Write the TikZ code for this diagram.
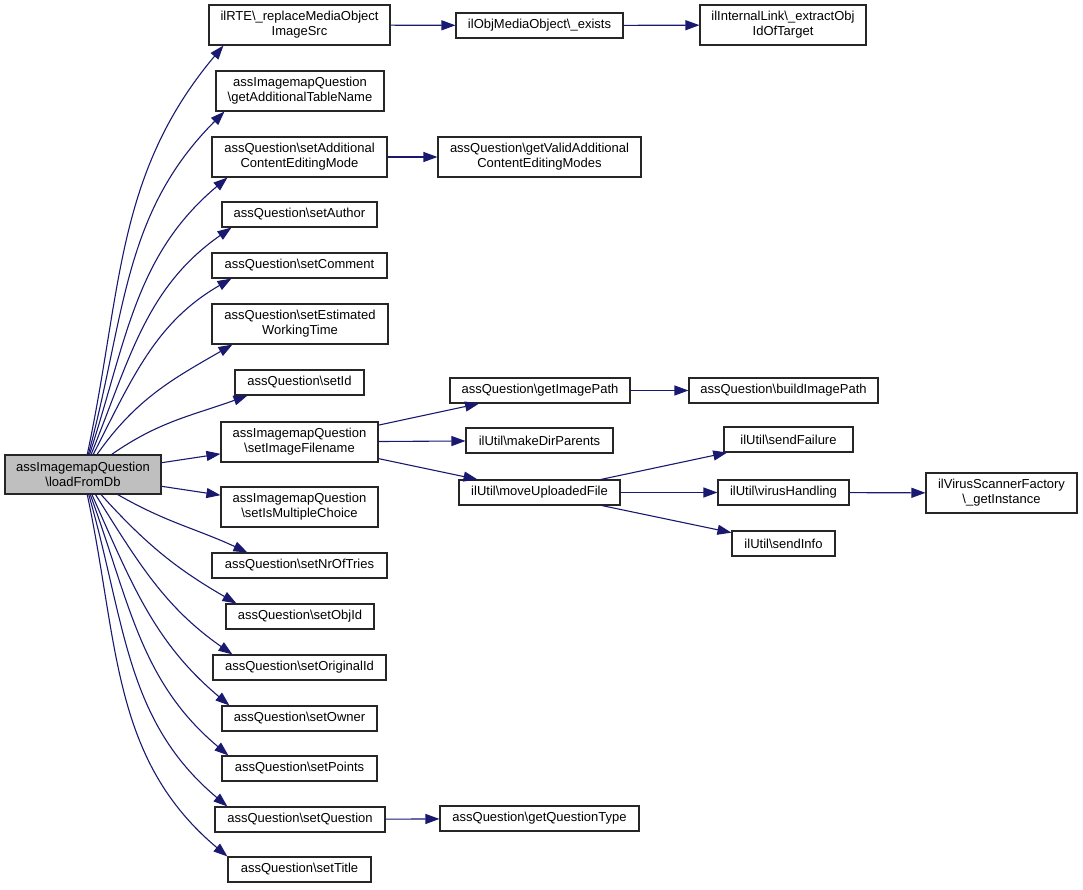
\documentclass[tikz,border=0pt]{standalone}
\usepackage{fontspec}
\setmainfont{Liberation Sans}
\usetikzlibrary{arrows.meta}
\definecolor{edgeblue}{HTML}{191970}
\definecolor{curfill}{HTML}{BFBFBF}
\newcommand{\bksl}{\textbackslash}
\begin{document}
\begin{tikzpicture}[x=1pt, y=1pt,
  every node/.style={font=\fontsize{13}{15}\selectfont},
  fn/.style={draw=black!85, line width=1.1pt, fill=white, align=center, inner sep=0pt},
  call/.style={draw=edgeblue, line width=1.1pt, -{Triangle[length=14pt,width=10pt]}}]
\useasboundingbox (0,0) rectangle (1083,-889);

% caller
\node[fn, fill=curfill, minimum width=156pt, minimum height=39pt] (main) at (83,-474.5)
{assImagemapQuestion\\\bksl loadFromDb};

% direct callees
\node[fn, minimum width=181pt, minimum height=40pt] (rte) at (299.5,-25)
{ilRTE\bksl\_replaceMediaObject\\ImageSrc};
\node[fn, minimum width=168pt, minimum height=40pt] (getadd) at (300,-91)
{assImagemapQuestion\\\bksl getAdditionalTableName};
\node[fn, minimum width=175pt, minimum height=40pt] (setacem) at (299.5,-157)
{assQuestion\bksl setAdditional\\ContentEditingMode};
\node[fn, minimum width=155pt, minimum height=25pt] (setauthor) at (299.5,-214.5)
{assQuestion\bksl setAuthor};
\node[fn, minimum width=175pt, minimum height=25pt] (setcomment) at (299.5,-265.5)
{assQuestion\bksl setComment};
\node[fn, minimum width=176pt, minimum height=40pt] (setest) at (300,-324)
{assQuestion\bksl setEstimated\\WorkingTime};
\node[fn, minimum width=129pt, minimum height=25pt] (setid) at (299.5,-382.5)
{assQuestion\bksl setId};
\node[fn, minimum width=157pt, minimum height=40pt] (setimg) at (299.5,-442)
{assImagemapQuestion\\\bksl setImageFilename};
\node[fn, minimum width=157pt, minimum height=40pt] (setmulti) at (299.5,-507)
{assImagemapQuestion\\\bksl setIsMultipleChoice};
\node[fn, minimum width=175pt, minimum height=25pt] (settries) at (299.5,-565.5)
{assQuestion\bksl setNrOfTries};
\node[fn, minimum width=148pt, minimum height=25pt] (setobjid) at (300,-616.5)
{assQuestion\bksl setObjId};
\node[fn, minimum width=173pt, minimum height=25pt] (setorigid) at (299.5,-667.5)
{assQuestion\bksl setOriginalId};
\node[fn, minimum width=155pt, minimum height=25pt] (setowner) at (299.5,-718.5)
{assQuestion\bksl setOwner};
\node[fn, minimum width=155pt, minimum height=25pt] (setpoints) at (299.5,-768.5)
{assQuestion\bksl setPoints};
\node[fn, minimum width=170pt, minimum height=25pt] (setquest) at (300,-819.5)
{assQuestion\bksl setQuestion};
\node[fn, minimum width=143pt, minimum height=25pt] (settitle) at (299.5,-869.5)
{assQuestion\bksl setTitle};

% second level
\node[fn, minimum width=167pt, minimum height=25pt] (mobexists) at (539.5,-25.5)
{ilObjMediaObject\bksl\_exists};
\node[fn, minimum width=203pt, minimum height=40pt] (getvalid) at (539.5,-157)
{assQuestion\bksl getValidAdditional\\ContentEditingModes};
\node[fn, minimum width=180pt, minimum height=25pt] (getimgpath) at (540,-390.5)
{assQuestion\bksl getImagePath};
\node[fn, minimum width=147pt, minimum height=25pt] (mkdirpar) at (539.5,-440.5)
{ilUtil\bksl makeDirParents};
\node[fn, minimum width=161pt, minimum height=25pt] (moveupl) at (539.5,-492.5)
{ilUtil\bksl moveUploadedFile};
\node[fn, minimum width=199pt, minimum height=25pt] (getqtype) at (539.5,-818.5)
{assQuestion\bksl getQuestionType};

% third level
\node[fn, minimum width=166pt, minimum height=40pt] (extractobj) at (783,-25)
{ilInternalLink\bksl\_extractObj\\IdOfTarget};
\node[fn, minimum width=189pt, minimum height=25pt] (buildimg) at (783.5,-390.5)
{assQuestion\bksl buildImagePath};
\node[fn, minimum width=129pt, minimum height=25pt] (sendfail) at (788.5,-439.5)
{ilUtil\bksl sendFailure};
\node[fn, minimum width=131pt, minimum height=25pt] (virushand) at (783.5,-492.5)
{ilUtil\bksl virusHandling};
\node[fn, minimum width=103pt, minimum height=25pt] (sendinfo) at (783.5,-543.5)
{ilUtil\bksl sendInfo};
\node[fn, minimum width=151pt, minimum height=40pt] (scanfact) at (1001.5,-493)
{ilVirusScannerFactory\\\bksl\_getInstance};

% calls from loadFromDb
\draw[call] (main) to[out=78,in=-130] ([xshift=15pt]rte.south west);
\draw[call] (main) to[out=75,in=-135] ([xshift=9pt]getadd.south west);
\draw[call] (main) to[out=72,in=-140] ([xshift=16pt]setacem.south west);
\draw[call] (main) to[out=68,in=-145] ([xshift=10pt]setauthor.south west);
\draw[call] (main) to[out=63,in=-150] ([xshift=20pt]setcomment.south west);
\draw[call] (main) to[out=55,in=-150] ([xshift=21pt]setest.south west);
\draw[call] (main) to[out=35,in=-160] ([xshift=13pt]setid.south west);
\draw[call] (main) -- (setimg);
\draw[call] (main) -- (setmulti);
\draw[call] (main) to[out=-30,in=155] ([xshift=36pt]settries.north west);
\draw[call] (main) to[out=-48,in=150] ([xshift=11pt]setobjid.north west);
\draw[call] (main) to[out=-58,in=145] ([xshift=20pt]setorigid.north west);
\draw[call] (main) to[out=-66,in=140] ([xshift=8pt]setowner.north west);
\draw[call] (main) to[out=-70,in=140] ([xshift=7pt]setpoints.north west);
\draw[call] (main) to[out=-74,in=140] ([xshift=13pt]setquest.north west);
\draw[call] (main) to[out=-78,in=140] (settitle.north west);

% deeper calls
\draw[call] (rte) -- (mobexists);
\draw[call] (mobexists) -- (extractobj);
\draw[call] (setacem) -- (getvalid);
\draw[call] (setimg) -- (getimgpath);
\draw[call] (setimg) -- (mkdirpar);
\draw[call] (setimg) -- (moveupl);
\draw[call] (getimgpath) -- (buildimg);
\draw[call] (moveupl) -- (sendfail);
\draw[call] (moveupl) -- (virushand);
\draw[call] (moveupl) -- (sendinfo);
\draw[call] (virushand) -- (scanfact);
\draw[call] (setquest) -- (getqtype);
\end{tikzpicture}
\end{document}
